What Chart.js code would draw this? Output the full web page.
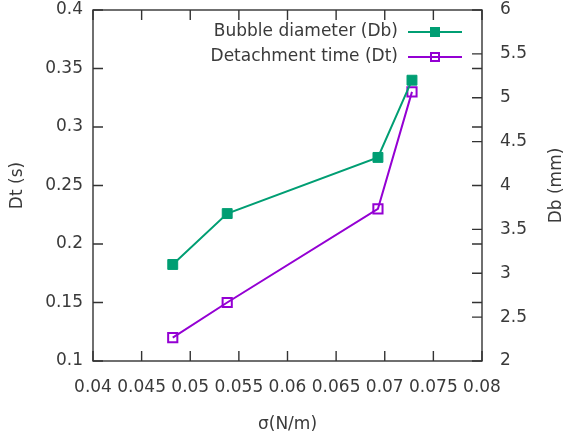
<!DOCTYPE html>
<html>
<head>
<meta charset="utf-8">
<script src="https://cdn.jsdelivr.net/npm/chart.js@4.4.1/dist/chart.umd.min.js"></script>
<style>
  body { margin: 0; background: #fff; }
  canvas { display: block; }
</style>
</head>
<body>
<canvas id="bubbleChart" width="569" height="438"></canvas>
<script>
// surface tension (N/m)
const sigma = [0.0482, 0.0538, 0.0693, 0.0728];
// bubble diameter Db (mm), right axis
const diameter = [3.10, 3.68, 4.32, 5.20];
// detachment time Dt (s), left axis
const detachTime = [0.12, 0.15, 0.23, 0.33];

const xTicks = [0.04, 0.045, 0.05, 0.055, 0.06, 0.065, 0.07, 0.075, 0.08];
const dtTicks = [0.1, 0.15, 0.2, 0.25, 0.3, 0.35, 0.4];
const dbTicks = [2, 2.5, 3, 3.5, 4, 4.5, 5, 5.5, 6];

const green = '#009e73';
const purple = '#9400d3';
const textCol = '#3a3a3a';
const axisCol = '#333333';
const fontFam = '"DejaVu Sans", Verdana, sans-serif';

function setTicks(values) {
    return function(scale) {
        scale.ticks = values.map(v => ({ value: v }));
    };
}

// gnuplot style frame, inward ticks, legend and right title
const framePlugin = {
    id: 'frame',
    afterDatasetsDraw(chart) {
        const ctx = chart.ctx;
        const a = chart.chartArea;
        const x = chart.scales.x, y = chart.scales.y, y2 = chart.scales.y2;
        const len = 10;
        ctx.save();
        ctx.strokeStyle = axisCol;
        ctx.lineWidth = 1.4;
        ctx.beginPath();
        xTicks.forEach(v => {
            const px = x.getPixelForValue(v);
            ctx.moveTo(px, a.bottom); ctx.lineTo(px, a.bottom - len);
            ctx.moveTo(px, a.top); ctx.lineTo(px, a.top + len);
        });
        dtTicks.forEach(v => {
            const py = y.getPixelForValue(v);
            ctx.moveTo(a.left, py); ctx.lineTo(a.left + len, py);
            ctx.moveTo(a.right, py); ctx.lineTo(a.right - len, py);
        });
        dbTicks.forEach(v => {
            const py = y2.getPixelForValue(v);
            ctx.moveTo(a.right, py); ctx.lineTo(a.right - len, py);
        });
        ctx.stroke();
        ctx.strokeRect(a.left, a.top, a.right - a.left, a.bottom - a.top);

        // legend
        ctx.font = '17px ' + fontFam;
        ctx.textBaseline = 'middle';
        ctx.textAlign = 'right';
        chart.data.datasets.forEach((ds, i) => {
            const ly = 32 + i * 25;
            ctx.fillStyle = textCol;
            ctx.fillText(ds.label, 398, ly);
            ctx.strokeStyle = ds.borderColor;
            ctx.lineWidth = 2;
            ctx.beginPath();
            ctx.moveTo(408, ly); ctx.lineTo(462, ly);
            ctx.stroke();
            const s = 5;
            if (ds.pointBackgroundColor !== 'transparent') {
                ctx.fillStyle = ds.borderColor;
                ctx.fillRect(435 - s, ly - s, 2 * s, 2 * s);
            } else {
                ctx.fillStyle = '#fff';
                ctx.fillRect(435 - s, ly - s, 2 * s, 2 * s);
                ctx.beginPath();
                ctx.moveTo(435 - s, ly); ctx.lineTo(435 + s, ly);
                ctx.stroke();
                ctx.strokeRect(435 - s + 1, ly - s + 1, 2 * s - 2, 2 * s - 2);
            }
        });

        // right axis title, reads bottom to top like the left one
        ctx.save();
        ctx.translate(557, (a.top + a.bottom) / 2);
        ctx.rotate(-Math.PI / 2);
        ctx.textAlign = 'center';
        ctx.fillStyle = textCol;
        ctx.fillText('Db (mm)', 0, 0);
        ctx.restore();
        ctx.restore();
    }
};

const ctx = document.getElementById('bubbleChart').getContext('2d');
const myChart = new Chart(ctx, {
    type: 'scatter',
    data: {
        datasets: [{
            label: 'Bubble diameter (Db)',
            data: sigma.map((s, i) => ({ x: s, y: diameter[i] })),
            yAxisID: 'y2',
            showLine: true,
            borderColor: green,
            backgroundColor: green,
            pointBackgroundColor: green,
            pointBorderColor: green,
            pointStyle: 'rect',
            pointRadius: 7,
            pointBorderWidth: 1,
            borderWidth: 2
        }, {
            label: 'Detachment time (Dt)',
            data: sigma.map((s, i) => ({ x: s, y: detachTime[i] })),
            yAxisID: 'y',
            showLine: true,
            borderColor: purple,
            backgroundColor: 'transparent',
            pointBackgroundColor: 'transparent',
            pointBorderColor: purple,
            pointStyle: 'rect',
            pointRadius: 6.5,
            pointBorderWidth: 2,
            borderWidth: 2
        }]
    },
    options: {
        responsive: false,
        animation: false,
        layout: { padding: { top: 10, left: 0, right: 0, bottom: 0 } },
        plugins: {
            legend: { display: false },
            tooltip: { enabled: false }
        },
        scales: {
            x: {
                type: 'linear',
                position: 'bottom',
                min: 0.04,
                max: 0.08,
                afterBuildTicks: setTicks(xTicks),
                afterFit(scale) {
                    scale.height = 77;
                    scale.paddingLeft = 0;
                    scale.paddingRight = 0;
                },
                grid: { display: false, drawTicks: false },
                border: { display: false },
                ticks: {
                    autoSkip: false,
                    maxRotation: 0,
                    padding: 16,
                    color: textCol,
                    font: { family: fontFam, size: 17 },
                    callback: v => String(+v.toFixed(3))
                },
                title: {
                    display: true,
                    text: 'σ(N/m)',
                    color: textCol,
                    padding: { top: 0, bottom: 3 },
                    font: { family: fontFam, size: 17 }
                }
            },
            y: {
                type: 'linear',
                position: 'left',
                min: 0.1,
                max: 0.4,
                afterBuildTicks: setTicks(dtTicks),
                afterFit(scale) {
                    scale.width = 93;
                    scale.paddingTop = 0;
                    scale.paddingBottom = 0;
                },
                grid: { display: false, drawTicks: false },
                border: { display: false },
                ticks: {
                    autoSkip: false,
                    padding: 10,
                    color: textCol,
                    font: { family: fontFam, size: 17 },
                    callback: v => String(+v.toFixed(2))
                },
                title: {
                    display: true,
                    text: 'Dt (s)',
                    color: textCol,
                    padding: { top: 7, bottom: 0 },
                    font: { family: fontFam, size: 17 }
                }
            },
            y2: {
                type: 'linear',
                position: 'right',
                min: 2,
                max: 6,
                afterBuildTicks: setTicks(dbTicks),
                afterFit(scale) {
                    scale.width = 87;
                    scale.paddingTop = 0;
                    scale.paddingBottom = 0;
                },
                grid: { display: false, drawTicks: false },
                border: { display: false },
                ticks: {
                    autoSkip: false,
                    padding: 18,
                    color: textCol,
                    font: { family: fontFam, size: 17 },
                    callback: v => String(+v.toFixed(1))
                }
            }
        }
    },
    plugins: [framePlugin]
});
</script>
</body>
</html>
